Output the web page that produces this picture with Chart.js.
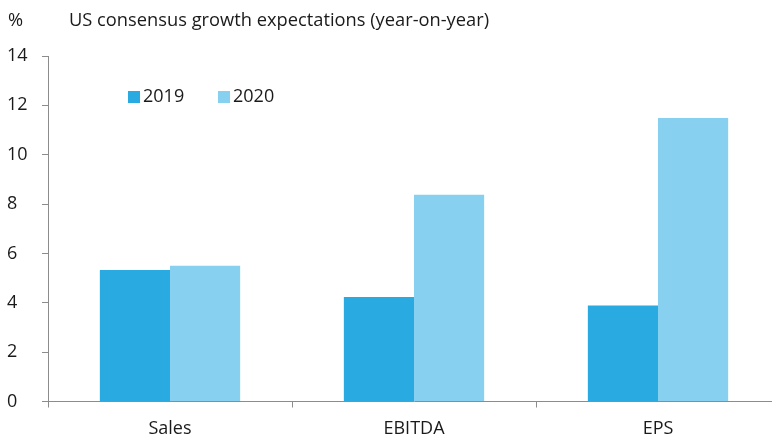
<!DOCTYPE html>
<html><head><meta charset="utf-8">
<script src="https://cdn.jsdelivr.net/npm/chart.js@4/dist/chart.umd.min.js"></script>
<style>html,body{margin:0;padding:0;background:#fff;overflow:hidden}#wrap{width:780px;height:434px;position:relative}</style>
</head><body><div id="wrap"><canvas id="c"></canvas></div>
<script>
const categories = ["Sales", "EBITDA", "EPS"];
const series2019 = [5.33, 4.23, 3.89];
const series2020 = [5.50, 8.38, 11.49];
const seriesNames = ["2019", "2020"];
const yTicks = [0, 2, 4, 6, 8, 10, 12, 14];
const FONT = "'Open Sans', sans-serif";
const TXT = '#1a1a1a';
const AX = '#8c8c8c';

const overlay = {
  id: 'overlay',
  afterDraw(chart) {
    const ctx = chart.ctx;
    ctx.save();
    ctx.fillStyle = TXT;
    ctx.font = '18.3px ' + FONT;
    ctx.textBaseline = 'middle';
    ctx.textAlign = 'left';
    ctx.fillText('%', 8, 21);
    ctx.fillText('US consensus growth expectations (year-on-year)', 69, 21);
    // legend
    ctx.font = '18px ' + FONT;
    const pos = [128, 218];
    chart.data.datasets.forEach((ds, i) => {
      ctx.fillStyle = ds.backgroundColor;
      ctx.fillRect(pos[i], 91, 12, 12);
      ctx.fillStyle = TXT;
      ctx.fillText(ds.label, pos[i] + 15, 97);
    });
    ctx.restore();
  }
};

new Chart(document.getElementById('c'), {
  type: 'bar',
  data: {
    labels: categories,
    datasets: [
      { label: seriesNames[0], data: series2019, backgroundColor: '#29abe2', borderWidth: 0 },
      { label: seriesNames[1], data: series2020, backgroundColor: '#87d0f0', borderWidth: 0 }
    ]
  },
  options: {
    responsive: true,
    maintainAspectRatio: false,
    animation: false,
    devicePixelRatio: 1,
    layout: { padding: { left: 7, top: 56, right: 0, bottom: 0 } },
    datasets: { bar: { categoryPercentage: 0.575, barPercentage: 1.0 } },
    plugins: { legend: { display: false }, tooltip: { enabled: false }, title: { display: false } },
    scales: {
      x: {
        afterFit(scale) { scale.height = 32.5; },
        grid: { drawOnChartArea: false, offset: true, color: AX, tickLength: 6, drawTicks: true },
        border: { color: AX, width: 1 },
        ticks: { color: TXT, font: { family: FONT, size: 18 }, padding: 11, maxRotation: 0 }
      },
      y: {
        min: 0, max: 14,
        afterBuildTicks(scale) { scale.ticks = yTicks.map(v => ({ value: v })); },
        afterFit(scale) { scale.width = 41; },
        grid: { drawOnChartArea: false, color: AX, tickLength: 6 },
        border: { color: AX, width: 1 },
        ticks: { color: TXT, font: { family: FONT, size: 18 }, crossAlign: 'far', padding: 4 }
      }
    }
  },
  plugins: [overlay]
});
</script></body></html>
